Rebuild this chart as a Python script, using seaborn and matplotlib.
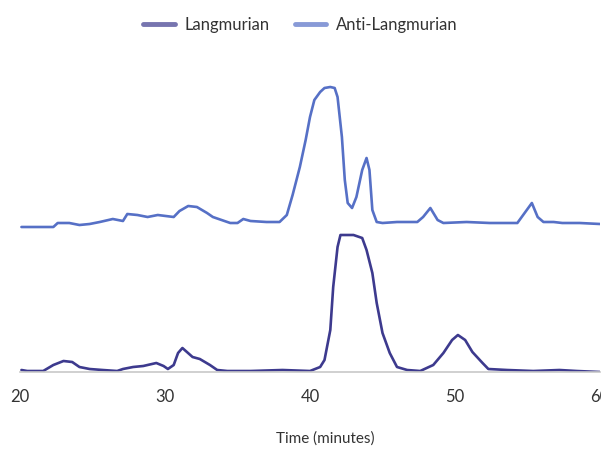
import pandas as pd
import matplotlib
matplotlib.use("Agg")
from matplotlib import pyplot as plt
import seaborn as sns

# chromatogram traces, time in minutes, signal in arbitrary units (upper trace stacked)
lang_time = [20.1, 20.5, 21.6, 22.3, 23.0, 23.6, 24.1, 24.8, 25.7, 26.7, 27.1, 27.8, 28.5,
             29.4, 29.9, 30.2, 30.6, 30.9, 31.2, 31.9, 32.4, 33.1, 33.6, 34.3, 35.9, 38.1,
             40.0, 40.7, 41.0, 41.4, 41.6, 41.9, 42.1, 43.0, 43.6, 43.9, 44.3, 44.6, 45.0,
             45.5, 46.0, 46.7, 47.6, 48.5, 49.2, 49.8, 50.2, 50.7, 51.2, 51.9, 52.3, 53.6,
             55.4, 57.2, 58.4, 60.0]
lang_signal = [2, 1, 1, 7, 11, 10, 5, 3, 2, 1, 3, 5, 6,
               9, 6, 3, 7, 19, 24, 15, 13, 7, 2, 1, 1, 2,
               1, 5, 12, 42, 85, 125, 137, 137, 134, 122, 99, 69, 39,
               19, 5, 2, 1, 7, 19, 32, 37, 32, 20, 9, 3, 2,
               1, 2, 1, 0]

anti_time = [20.1, 22.3, 22.6, 23.4, 24.1, 24.8, 25.5, 26.4, 27.1, 27.4, 28.1, 28.8, 29.5,
             30.6, 31.0, 31.6, 32.2, 32.9, 33.3, 34.5, 35.0, 35.4, 35.9, 37.0, 37.9, 38.4,
             38.8, 39.3, 39.7, 40.0, 40.3, 40.7, 41.0, 41.4, 41.7, 41.9, 42.2, 42.4, 42.6, 42.9,
             43.2, 43.6, 43.9, 44.1, 44.3, 44.6, 45.0, 46.0, 47.4, 47.8, 48.3, 48.8, 49.2,
             50.8, 52.4, 54.3, 54.7, 55.3, 55.7, 56.1, 56.8, 57.4, 58.6, 60.0]
anti_signal = [145, 145, 149, 149, 147, 148, 150, 153, 151, 158, 157, 155, 157,
               155, 161, 166, 165, 159, 155, 149, 149, 153, 151, 150, 150, 157,
               177, 205, 232, 255, 272, 280, 284, 285, 284, 275, 235, 192, 169, 164,
               175, 202, 214, 202, 162, 150, 149, 150, 150, 155, 164, 152, 149,
               150, 149, 149, 157, 169, 155, 150, 150, 149, 149, 148]

series_names = ["Langmurian", "Anti-Langmurian"]
colors = ["#3d3a8e", "#5670c6"]

df = pd.concat([
    pd.DataFrame({"time": lang_time, "signal": lang_signal, "series": series_names[0]}),
    pd.DataFrame({"time": anti_time, "signal": anti_signal, "series": series_names[1]}),
])

sns.set_style("white")
plt.rcParams["font.family"] = ["Lato", "DejaVu Sans"]

fig = plt.figure(figsize=(6.01, 4.51), dpi=100)
ax = fig.add_axes([20 / 601, 79 / 451, 580 / 601, 292 / 451])

sns.lineplot(data=df, x="time", y="signal", hue="series", hue_order=series_names,
             palette=colors, estimator=None, sort=True, linewidth=1.9, ax=ax, legend=True)
for line in ax.get_lines():
    line.set_solid_joinstyle("round")

ax.set_xlim(20, 60)
ax.set_ylim(0, 292)
ax.set_xticks([20, 30, 40, 50, 60])
ax.set_yticks([])
ax.set_ylabel("")
ax.set_xlabel("Time (minutes)", fontsize=11, color="#333333")
ax.xaxis.set_label_coords(0.526, -0.205)
ax.tick_params(axis="x", length=5, width=1, color="#c8c8c8", labelsize=12,
               labelcolor="#333333", pad=7)
for side in ["top", "right", "left"]:
    ax.spines[side].set_visible(False)
ax.spines["bottom"].set_color("#c8c8c8")
ax.spines["bottom"].set_linewidth(1.2)

handles, labels = ax.get_legend_handles_labels()
ax.get_legend().remove()
leg = fig.legend(handles, labels, loc="upper center", bbox_to_anchor=(0.5, 0.995), ncol=2,
                 frameon=False, fontsize=12, handlelength=1.9, columnspacing=1.5,
                 handletextpad=0.6)
for line in leg.get_lines():
    line.set_linewidth(3.5)
    line.set_alpha(0.7)
for t in leg.get_texts():
    t.set_color("#333333")

fig.savefig("out.png", dpi=100)
